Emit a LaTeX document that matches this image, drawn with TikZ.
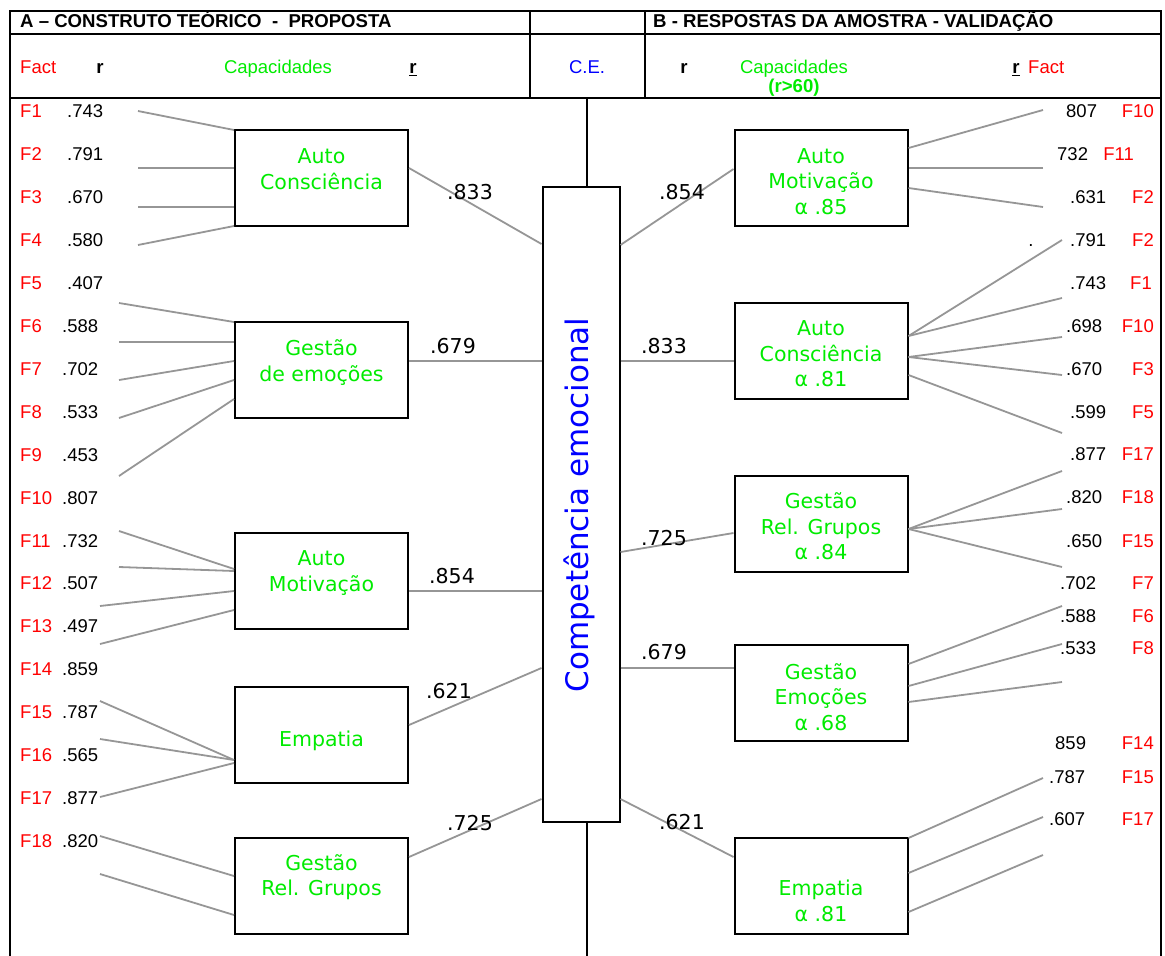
\documentclass[tikz,border=0pt]{standalone}
\usepackage{fontspec}
\setmainfont{Liberation Sans}
\newfontfamily\boxfont{DejaVu Sans}
\usetikzlibrary{positioning}
\definecolor{capgreen}{RGB}{0,235,0}
\definecolor{factred}{RGB}{255,0,0}
\definecolor{ceblue}{RGB}{0,0,255}
\definecolor{lngray}{RGB}{150,150,150}
\tikzset{
  tabline/.style={line width=2pt, black},
  capbox/.style={draw, line width=2pt, minimum width=173pt, minimum height=96pt, inner sep=0pt},
  cebox/.style={draw, line width=2pt, minimum width=77pt, minimum height=635pt, inner sep=0pt},
  captxt/.style={text=capgreen, font=\boxfont\fontsize{20.5}{25.5}\selectfont, align=center, inner sep=0pt, text depth=0pt},
  cetxt/.style={text=ceblue, font=\boxfont\fontsize{31}{36}\selectfont, inner sep=0pt},
  wlbl/.style={font=\boxfont\fontsize{20.5}{24}\selectfont, inner sep=0pt, text height=15pt, text depth=0pt},
  loadln/.style={line width=1.8pt, lngray},
  lbl/.style={font=\fontsize{18.5}{20}\selectfont, inner sep=0pt, text height=13.3pt, text depth=0pt},
  factlbl/.style={lbl, text=factred},
  rlbl/.style={lbl},
  headlbl/.style={lbl, font=\bfseries\fontsize{18.6}{20}\selectfont}
}
\begin{document}
\begin{tikzpicture}[x=1pt, y=-1pt]
  \useasboundingbox (0,0) rectangle (1165,956);
  % table frame
  \draw[tabline] (10,956) -- (10,11) -- (1161,11) -- (1161,956);
  \draw[tabline] (10,34) -- (1161,34);
  \draw[tabline] (10,98) -- (1161,98);
  \draw[tabline] (530,11) -- (530,98);
  \draw[tabline] (645,11) -- (645,98);
  % header rows
  \node[headlbl, anchor=west] (ha) at (20,21) {A – CONSTRUTO TEÓRICO\ \ -\ \ PROPOSTA};
  \node[headlbl, anchor=west] (hb) at (653,21) {B - RESPOSTAS DA AMOSTRA - VALIDAÇÃO};
  \node[factlbl, anchor=west] (hfa) at (20,67) {Fact};
  \node[headlbl] (hra) at (100,67) {r};
  \node[lbl, text=capgreen] (hca) at (278,67) {Capacidades};
  \node[headlbl] (hua) at (413,67) {\underline{r}};
  \node[lbl, text=ceblue] (hce) at (587,67) {C.E.};
  \node[headlbl] (hrb) at (684,67) {r};
  \node[lbl, text=capgreen] (hcb) at (794,67) {Capacidades};
  \node[headlbl, text=capgreen] (hcr) at (794,86) {(r>60)};
  \node[headlbl] (hub) at (1016,67) {\underline{r}};
  \node[factlbl, anchor=west] (hfb) at (1028,67) {Fact};
  % central construct
  \node[cebox] (ce) at (581,504.5) {};
  \node[cetxt, rotate=90] (cet) at (579,505) {Competência emocional};
  \draw[tabline] (587,98) -- (ce.north -| 587,0);
  \draw[tabline] (ce.south -| 587,0) -- (587,956);
  % A: proposed capacities
  \node[capbox] (lac) at (321.5,178) {};
  \node[captxt] (lact) at (321.5,169) {Auto\\Consciência};
  \node[capbox] (lge) at (321.5,370) {};
  \node[captxt] (lget) at (321.5,360.5) {Gestão\\de emoções};
  \node[capbox] (lam) at (321.5,581) {};
  \node[captxt] (lamt) at (321.5,571) {Auto\\Motivação};
  \node[capbox] (lem) at (321.5,735) {};
  \node[captxt] (lemt) at (321.5,739) {Empatia};
  \node[capbox] (lgr) at (321.5,886) {};
  \node[captxt] (lgrt) at (321.5,875) {Gestão\\Rel. Grupos};
  % B: validated capacities
  \node[capbox] (ram) at (821,178) {};
  \node[captxt] (ramt) at (821,181.5) {Auto\\Motivação\\α .85};
  \node[capbox] (rac) at (821,351) {};
  \node[captxt] (ract) at (821,354) {Auto\\Consciência\\α .81};
  \node[capbox] (rgr) at (821,524) {};
  \node[captxt] (rgrt) at (821,526.5) {Gestão\\Rel. Grupos\\α .84};
  \node[capbox] (rge) at (821,693) {};
  \node[captxt] (rget) at (821,697) {Gestão\\Emoções\\α .68};
  \node[capbox] (rem) at (821,886) {};
  \node[captxt] (remt) at (821,900.5) {Empatia\\α .81};
  % capacities to C.E.
  \draw[loadln] (lac.east |- 0,168) -- (ce.west |- 0,244);
  \draw[loadln] (lge.east |- 0,361) -- (ce.west |- 0,361);
  \draw[loadln] (lam.east |- 0,591) -- (ce.west |- 0,591);
  \draw[loadln] (lem.east |- 0,725) -- (ce.west |- 0,668);
  \draw[loadln] (lgr.east |- 0,857) -- (ce.west |- 0,799);
  \draw[loadln] (ce.east |- 0,245) -- (ram.west |- 0,169);
  \draw[loadln] (ce.east |- 0,361) -- (rac.west |- 0,361);
  \draw[loadln] (ce.east |- 0,552) -- (rgr.west |- 0,533);
  \draw[loadln] (ce.east |- 0,668) -- (rge.west |- 0,668);
  \draw[loadln] (ce.east |- 0,799) -- (rem.west |- 0,857);
  \node[wlbl] (wl1) at (470,192) {.833};
  \node[wlbl] (wl2) at (453,346) {.679};
  \node[wlbl] (wl3) at (452,576) {.854};
  \node[wlbl] (wl4) at (449,691) {.621};
  \node[wlbl] (wl5) at (470,823) {.725};
  \node[wlbl] (wr1) at (682,192) {.854};
  \node[wlbl] (wr2) at (664,346) {.833};
  \node[wlbl] (wr3) at (664,538) {.725};
  \node[wlbl] (wr4) at (664,652) {.679};
  \node[wlbl] (wr5) at (682,822) {.621};
  % factor lines, A
  \foreach \fx/\fy/\bx/\by [count=\k] in {138/111/lac/130, 138/168/lac/168, 138/207/lac/207, 138/245/lac/226,
      119/303/lge/322, 119/342/lge/342, 119/380/lge/361, 119/418/lge/380, 119/476/lge/399,
      119/531/lam/569, 119/567/lam/571, 100/606/lam/591, 100/644/lam/610,
      100/701/lem/760, 100/739/lem/760, 100/797/lem/763, 100/836/lgr/876, 100/874/lgr/915}
  {
    \coordinate (lfe\k) at (\fx,\fy);
    \draw[loadln] (lfe\k) -- (\bx.west |- 0,\by);
  }
  % factor lines, B
  \foreach \fx/\fy/\bx/\by [count=\k] in {1043/110/ram/148, 1043/168/ram/168, 1043/207/ram/188,
      1062/240/rac/336, 1062/298/rac/336, 1062/337/rac/357, 1062/375/rac/357, 1062/433/rac/375,
      1062/471/rgr/529, 1062/509/rgr/529, 1062/567/rgr/529,
      1062/606/rge/664, 1062/644/rge/686, 1062/682/rge/702,
      1043/778/rem/838, 1043/817/rem/873, 1043/855/rem/912}
  {
    \coordinate (rfe\k) at (\fx,\fy);
    \draw[loadln] (rfe\k) -- (\bx.east |- 0,\by);
  }
  % factor labels, A
  \foreach \v [count=\i] in {.743,.791,.670,.580,.407,.588,.702,.533,.453,.807,.732,.507,.497,.859,.787,.565,.877,.820}
  {
    \pgfmathsetmacro\yy{111+42.94*(\i-1)}
    \ifnum\i<6 \def\vx{67}\else\def\vx{62}\fi
    \node[factlbl, anchor=west] (lf\i) at (20,\yy) {F\i};
    \node[rlbl, anchor=west] (lv\i) at (\vx,\yy) {\v};
  }
  % factor labels, B
  \foreach \y/\v/\vx/\f/\fx [count=\i] in {111/807/1066/F10/1154, 154/732/1057/F11/1134, 197/.631/1070/F2/1154,
      240/.791/1070/F2/1154, 283/.743/1070/F1/1152, 326/.698/1066/F10/1154, 369/.670/1066/F3/1154,
      412/.599/1070/F5/1154, 454/.877/1070/F17/1154, 497/.820/1066/F18/1154, 541/.650/1066/F15/1154,
      583/.702/1060/F7/1154, 616/.588/1060/F6/1154, 648/.533/1060/F8/1154, 743/859/1055/F14/1154,
      777/.787/1049/F15/1154, 819/.607/1049/F17/1154}
  {
    \node[rlbl, anchor=west] (rv\i) at (\vx,\y) {\v};
    \node[factlbl, anchor=east] (rf\i) at (\fx,\y) {\f};
  }
  \node[rlbl] (rdot) at (1031,240) {.};
\end{tikzpicture}
\end{document}
